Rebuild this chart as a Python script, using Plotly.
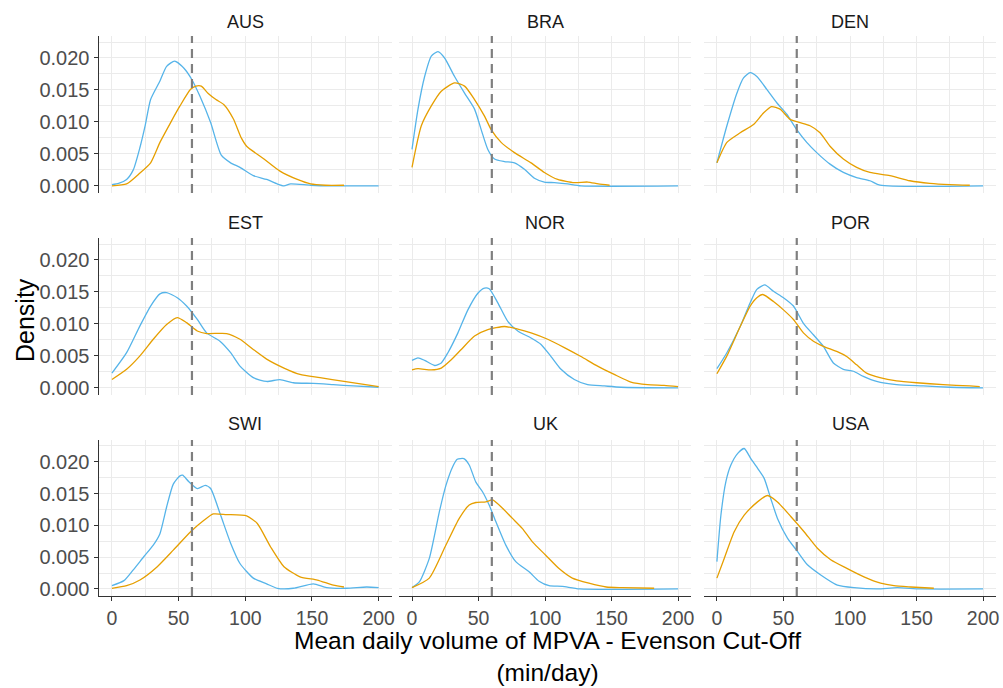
import plotly.graph_objects as go

# ---------------- data ----------------
countries = ["AUS", "BRA", "DEN", "EST", "NOR", "POR", "SWI", "UK", "USA"]
cutoff = 60
x_ticks = [0, 50, 100, 150, 200]
y_ticks = [0.000, 0.005, 0.010, 0.015, 0.020]
y_tick_labels = ["0.000", "0.005", "0.010", "0.015", "0.020"]

aus_blue_x = [0, 5, 11, 16, 21, 25, 29, 36, 41, 47, 54, 60, 66, 74, 82, 89, 96, 106, 116, 124, 129, 134, 149, 165, 200]
aus_blue_y = [0.0002, 0.0004, 0.001, 0.0025, 0.006, 0.0095, 0.0135, 0.0164, 0.0187, 0.0195, 0.0184, 0.0166, 0.014, 0.0099, 0.0048, 0.0036, 0.0029, 0.0016, 0.001, 0.0003, 0.0, 0.0003, 0.0001, 0.0, 0.0]
aus_orange_x = [0, 11, 21, 29, 36, 44, 51, 59, 63, 67, 72, 78, 84, 91, 97, 101, 114, 126, 139, 149, 160, 174]
aus_orange_y = [0.0, 0.0003, 0.002, 0.0036, 0.0068, 0.0099, 0.0125, 0.0151, 0.0156, 0.0156, 0.0145, 0.0135, 0.0127, 0.0105, 0.0075, 0.0062, 0.0042, 0.0023, 0.001, 0.0003, 0.0001, 0.0001]

bra_blue_x = [0, 4.5, 9.5, 14.5, 19.5, 24.5, 32, 39.5, 47, 52, 57, 62, 69.5, 77, 84.5, 92, 99.5, 107, 117, 127, 200]
bra_blue_y = [0.0057, 0.012, 0.0171, 0.0203, 0.021, 0.02, 0.0171, 0.0145, 0.012, 0.0088, 0.0057, 0.0042, 0.0038, 0.0036, 0.0026, 0.0012, 0.0006, 0.0005, 0.0003, 0.0, 0.0]
bra_orange_x = [0, 7, 14.5, 22, 32, 39.5, 47, 54.5, 59.5, 67, 77, 89.5, 99.5, 109.5, 122, 132, 140, 148.5]
bra_orange_y = [0.0029, 0.0094, 0.0125, 0.0148, 0.0161, 0.0156, 0.0135, 0.0109, 0.0088, 0.0068, 0.0052, 0.0036, 0.0021, 0.001, 0.0005, 0.0006, 0.0003, 0.0001]

den_blue_x = [0, 7.5, 15, 20, 25, 30, 37.5, 45, 52.5, 60, 67.5, 75, 85, 95, 105, 115, 122.5, 200]
den_blue_y = [0.0036, 0.0094, 0.0145, 0.0169, 0.0177, 0.0171, 0.0151, 0.013, 0.0112, 0.0088, 0.0068, 0.0052, 0.0034, 0.0021, 0.0013, 0.0008, 0.0001, 0.0]
den_orange_x = [0, 7.5, 17.5, 27.5, 35, 41, 47.5, 55, 62.5, 70, 77.5, 85, 95, 105, 115, 130, 145, 160, 175, 190]
den_orange_y = [0.0036, 0.0068, 0.0083, 0.0096, 0.0114, 0.0124, 0.012, 0.0104, 0.0099, 0.0094, 0.0083, 0.0062, 0.0042, 0.0029, 0.0021, 0.0016, 0.0008, 0.0004, 0.0002, 0.0001]

est_blue_x = [0, 11, 21, 29, 36, 41, 49, 56, 64, 71, 81, 89, 96, 106, 116, 126, 136, 151, 166, 181, 200]
est_blue_y = [0.0023, 0.0055, 0.0097, 0.0128, 0.0147, 0.0149, 0.0141, 0.0128, 0.0107, 0.0086, 0.0073, 0.0055, 0.0034, 0.0016, 0.001, 0.0013, 0.0008, 0.0007, 0.0005, 0.0003, 0.0001]
est_orange_x = [0, 11, 21, 31, 41, 49, 56, 64, 71, 86, 96, 106, 116, 129, 141, 156, 174, 200]
est_orange_y = [0.0013, 0.0029, 0.005, 0.0076, 0.0099, 0.011, 0.0102, 0.0089, 0.0085, 0.0085, 0.0076, 0.006, 0.0045, 0.0031, 0.0021, 0.0016, 0.001, 0.0002]

nor_blue_x = [0, 4.5, 9.5, 17, 22, 27, 34.5, 42, 49.5, 54.5, 58, 64.5, 72, 79.5, 89.5, 97, 104.5, 112, 122, 132, 144.5, 157, 200]
nor_blue_y = [0.0043, 0.0047, 0.0043, 0.0035, 0.0039, 0.0055, 0.0086, 0.0122, 0.0148, 0.0156, 0.0155, 0.0133, 0.0104, 0.0089, 0.0078, 0.0068, 0.0049, 0.0029, 0.0013, 0.0005, 0.0003, 0.0001, 0.0]
nor_orange_x = [0, 4.5, 14.5, 22, 29.5, 37, 47, 57, 69.5, 79.5, 89.5, 102, 114.5, 127, 139.5, 152, 164.5, 177, 189.5, 200]
nor_orange_y = [0.0028, 0.003, 0.0028, 0.0031, 0.0044, 0.006, 0.0081, 0.0091, 0.0096, 0.0092, 0.0086, 0.0076, 0.0063, 0.0049, 0.0034, 0.0021, 0.0009, 0.0005, 0.0004, 0.0002]

por_blue_x = [0, 7.5, 17.5, 25, 30, 36, 42.5, 50, 57.5, 65, 72.5, 80, 87.5, 95, 102.5, 110, 120, 135, 155, 175, 200]
por_blue_y = [0.003, 0.0055, 0.0096, 0.0133, 0.0154, 0.0161, 0.0151, 0.0141, 0.0128, 0.0101, 0.0083, 0.0065, 0.0039, 0.0029, 0.0026, 0.0018, 0.001, 0.0005, 0.0003, 0.0001, 0.0]
por_orange_x = [0, 7.5, 17.5, 25, 30, 34.5, 42.5, 50, 57.5, 65, 72.5, 80, 90, 97.5, 105, 112.5, 122.5, 135, 150, 170, 190, 197.5]
por_orange_y = [0.0022, 0.005, 0.0096, 0.0128, 0.0141, 0.0146, 0.0135, 0.0122, 0.0107, 0.0086, 0.0073, 0.0065, 0.0057, 0.0049, 0.0036, 0.0023, 0.0016, 0.0011, 0.0008, 0.0005, 0.0003, 0.0002]

swi_blue_x = [0, 9, 16, 24, 31, 36, 41, 46, 51, 53, 57.5, 64, 70, 74, 81, 89, 96, 106, 116, 124, 136, 151, 161, 176, 191, 200]
swi_blue_y = [0.0005, 0.0013, 0.003, 0.0051, 0.0069, 0.0087, 0.0129, 0.0165, 0.0178, 0.0179, 0.0169, 0.0158, 0.0163, 0.0158, 0.0119, 0.0072, 0.004, 0.0017, 0.0008, 0.0001, 0.0001, 0.0008, 0.0002, 0.0001, 0.0003, 0.0002]
swi_orange_x = [0, 11, 21, 34, 46, 59, 69, 76, 86, 101, 109, 119, 129, 141, 154, 166, 174]
swi_orange_y = [0.0001, 0.0005, 0.0014, 0.0035, 0.0061, 0.009, 0.0108, 0.0118, 0.0117, 0.0115, 0.0103, 0.0066, 0.0035, 0.0019, 0.0014, 0.0006, 0.0003]

uk_blue_x = [0, 5.5, 13, 20.5, 25.5, 30.5, 34, 39, 43, 48, 53, 58, 63, 70.5, 78, 88, 95.5, 103, 113, 126, 200]
uk_blue_y = [0.0002, 0.0011, 0.0048, 0.0121, 0.0163, 0.0192, 0.0204, 0.0205, 0.0195, 0.0168, 0.0153, 0.0132, 0.0106, 0.0069, 0.0043, 0.0027, 0.0012, 0.0005, 0.0004, 0.0, 0.0]
uk_orange_x = [0, 13, 25.5, 35.5, 43, 48, 55.5, 60.5, 68, 75.5, 83, 90.5, 100.5, 110.5, 120.5, 133, 146, 158, 182]
uk_orange_y = [0.0002, 0.0017, 0.0069, 0.0111, 0.0132, 0.0136, 0.0137, 0.014, 0.0127, 0.0111, 0.0095, 0.0074, 0.0053, 0.0032, 0.0017, 0.0009, 0.0003, 0.0002, 0.0001]

usa_blue_x = [0, 3, 6.75, 10.5, 15.5, 20.5, 25.5, 30.5, 35.5, 40.5, 45.5, 53, 60.5, 68, 78, 90.5, 103, 120.5, 135.5, 153, 200]
usa_blue_y = [0.0043, 0.0116, 0.0169, 0.0195, 0.0213, 0.0221, 0.0205, 0.019, 0.0174, 0.0142, 0.0111, 0.008, 0.0059, 0.0038, 0.0022, 0.0006, 0.0002, 0.0, 0.0002, 0.0, 0.0]
usa_orange_x = [0, 5.5, 13, 20.5, 30.5, 38, 45.5, 55.5, 65.5, 75.5, 85.5, 98, 110.5, 123, 133, 145.5, 163]
usa_orange_y = [0.0017, 0.0048, 0.009, 0.0116, 0.0137, 0.0147, 0.0137, 0.0114, 0.009, 0.0064, 0.0046, 0.0032, 0.0019, 0.0009, 0.0005, 0.0003, 0.0001]

blue_series = [(aus_blue_x, aus_blue_y), (bra_blue_x, bra_blue_y), (den_blue_x, den_blue_y),
               (est_blue_x, est_blue_y), (nor_blue_x, nor_blue_y), (por_blue_x, por_blue_y),
               (swi_blue_x, swi_blue_y), (uk_blue_x, uk_blue_y), (usa_blue_x, usa_blue_y)]
orange_series = [(aus_orange_x, aus_orange_y), (bra_orange_x, bra_orange_y), (den_orange_x, den_orange_y),
                 (est_orange_x, est_orange_y), (nor_orange_x, nor_orange_y), (por_orange_x, por_orange_y),
                 (swi_orange_x, swi_orange_y), (uk_orange_x, uk_orange_y), (usa_orange_x, usa_orange_y)]

# ---------------- layout geometry ----------------
W, H = 1003, 688
BLUE = "#56B4E9"
ORANGE = "#E69F00"
FONT = "Liberation Sans, Arial, sans-serif"

col_px = [(98.6, 392.0), (398.7, 691.4), (703.6, 996.4)]
row_px = [(36, 193), (238, 395), (440, 596)]  # top, bottom
strip_y_px = [22, 223, 424]

x_range = [-10, 210]
y_range = [-0.001116, 0.02344]

fig = go.Figure()
layout = dict(
    width=W, height=H,
    margin=dict(l=0, r=0, t=0, b=0, autoexpand=False),
    paper_bgcolor="white", plot_bgcolor="white",
    showlegend=False,
    font=dict(family=FONT),
)
shapes = []
annotations = []

for i, name in enumerate(countries):
    r, c = divmod(i, 3)
    k = i + 1
    xa = "x" if k == 1 else f"x{k}"
    ya = "y" if k == 1 else f"y{k}"
    bx, by = blue_series[i]
    ox, oy = orange_series[i]
    fig.add_trace(go.Scatter(x=bx, y=by, xaxis=xa, yaxis=ya, mode="lines", name="Blue group",
                             line=dict(color=BLUE, width=1.3, shape="spline", smoothing=0.6)))
    fig.add_trace(go.Scatter(x=ox, y=oy, xaxis=xa, yaxis=ya, mode="lines", name="Orange group",
                             line=dict(color=ORANGE, width=1.3, shape="spline", smoothing=0.6)))

    bottom = r == 2
    left = c == 0
    x0, x1 = col_px[c]
    top, bot = row_px[r]
    layout["xaxis" if k == 1 else f"xaxis{k}"] = dict(
        domain=[x0 / W, x1 / W], anchor=ya, range=x_range,
        tickvals=x_ticks, ticktext=[str(v) for v in x_ticks],
        showticklabels=bottom, ticks="outside" if bottom else "", ticklen=4, tickwidth=1.1,
        tickcolor="#333333", showline=bottom, linecolor="#333333", linewidth=1.2,
        showgrid=True, gridcolor="#EBEBEB", gridwidth=1.1, zeroline=False,
        minor=dict(tickvals=[25, 75, 125, 175], showgrid=True, gridcolor="#EBEBEB", gridwidth=0.6),
        tickfont=dict(size=19.5, color="#4D4D4D", family=FONT), fixedrange=True,
    )
    layout["yaxis" if k == 1 else f"yaxis{k}"] = dict(
        domain=[1 - bot / H, 1 - top / H], anchor=xa, range=y_range,
        tickvals=y_ticks, ticktext=y_tick_labels,
        showticklabels=left, ticks="outside" if left else "", ticklen=4, tickwidth=1.1,
        tickcolor="#333333", showline=left, linecolor="#333333", linewidth=1.2,
        showgrid=True, gridcolor="#EBEBEB", gridwidth=1.1, zeroline=False,
        minor=dict(tickvals=[0.0025, 0.0075, 0.0125, 0.0175, 0.0225], showgrid=True,
                   gridcolor="#EBEBEB", gridwidth=0.6),
        tickfont=dict(size=20, color="#4D4D4D", family=FONT), fixedrange=True,
    )
    shapes.append(dict(type="line", xref=xa, yref=f"{ya} domain", x0=cutoff, x1=cutoff, y0=0, y1=1,
                       line=dict(color="#7F7F7F", width=2.2, dash="9px,6px"), layer="above"))
    annotations.append(dict(text=name, xref="paper", yref="paper", x=(x0 + x1) / 2 / W,
                            y=1 - strip_y_px[r] / H, xanchor="center", yanchor="middle",
                            showarrow=False, font=dict(size=18, color="#1A1A1A", family=FONT)))

annotations.append(dict(text="Mean daily volume of MPVA - Evenson Cut-Off<br>(min/day)",
                        xref="paper", yref="paper", x=547.5 / W, y=0.002,
                        xanchor="center", yanchor="bottom", showarrow=False, borderpad=0,
                        font=dict(size=24.5, color="black", family=FONT)))
annotations.append(dict(text="Density", xref="paper", yref="paper", textangle=-90,
                        x=25 / W, y=1 - 320 / H, xanchor="center", yanchor="middle", showarrow=False,
                        font=dict(size=25, color="black", family=FONT)))

layout["shapes"] = shapes
layout["annotations"] = annotations
fig.update_layout(**layout)
fig.write_html("out.html", config={"displayModeBar": False})
